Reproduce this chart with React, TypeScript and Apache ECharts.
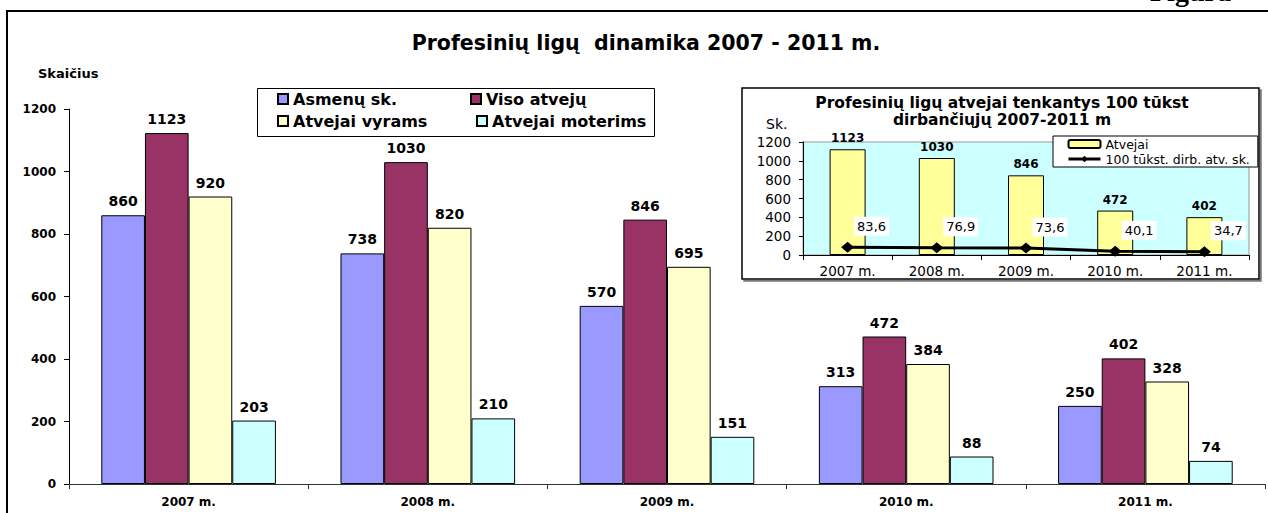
import React, { useEffect, useRef } from "react";
import * as echarts from "echarts";

const categories = ["2007 m.", "2008 m.", "2009 m.", "2010 m.", "2011 m."];
const asmenuSk = [860, 738, 570, 313, 250];
const visoAtveju = [1123, 1030, 846, 472, 402];
const atvejaiVyrams = [920, 820, 695, 384, 328];
const atvejaiMoterims = [203, 210, 151, 88, 74];
const insetAtvejai = [1123, 1030, 846, 472, 402];
const per100k = [83.6, 76.9, 73.6, 40.1, 34.7];

const FONT = "DejaVu Sans";

export default function App() {
  const ref = useRef<HTMLDivElement>(null);
  useEffect(() => {
    if (!ref.current) return;
    const chart = echarts.init(ref.current, undefined, { renderer: "svg" });
    const barLabel = {
      show: true,
      position: "top" as const,
      distance: 7,
      color: "#000",
      fontFamily: FONT,
      fontWeight: "bold" as const,
      fontSize: 14,
    };
    const mkBar = (name: string, data: number[], color: string) => ({
      name,
      type: "bar",
      xAxisIndex: 0,
      yAxisIndex: 0,
      data,
      barGap: "0%",
      barCategoryGap: "27%",
      itemStyle: { color, borderColor: "#000", borderWidth: 1 },
      label: barLabel,
    });
    const legendText = { fontFamily: FONT, fontSize: 16, fontWeight: "bold" as const, color: "#000" };
    const mkLegend = (name: string, left: number, top: number) => ({
      data: [name],
      left,
      top,
      padding: 0,
      itemWidth: 10,
      itemHeight: 10,
      icon: "rect",
      selectedMode: false,
      textStyle: legendText,
    });
    const plain = (v: number) => String(v);
    chart.setOption({
      animation: false,
      backgroundColor: "#fff",
      title: {
        text: "Profesinių ligų  dinamika 2007 - 2011 m.",
        left: 641,
        top: 27,
        textAlign: "center",
        textStyle: { fontFamily: FONT, fontSize: 20.5, fontWeight: "bold", color: "#000" },
      },
      legend: [
        mkLegend("Asmenų sk.", 277, 91),
        mkLegend("Viso atvejų", 470, 91),
        mkLegend("Atvejai vyrams", 277, 113),
        mkLegend("Atvejai moterims", 476, 113),
        {
          data: ["Atvejai", "100 tūkst. dirb. atv. sk."],
          orient: "vertical",
          left: 1053,
          top: 136,
          padding: [1, 8, 1, 14],
          itemGap: 1,
          itemWidth: 32,
          itemHeight: 8,
          selectedMode: false,
          backgroundColor: "#fff",
          borderColor: "#000",
          borderWidth: 1,
          lineStyle: { width: 3, color: "#000" },
          textStyle: { fontFamily: FONT, fontSize: 12.5, color: "#000", lineHeight: 14 },
        },
      ],
      grid: [
        { left: 69, top: 109, width: 1196, height: 375 },
        {
          left: 803,
          top: 142,
          width: 446,
          height: 113,
          show: true,
          backgroundColor: "#CCFFFF",
          borderColor: "#999",
          borderWidth: 1,
        },
      ],
      xAxis: [
        {
          type: "category",
          gridIndex: 0,
          data: categories,
          axisLine: { lineStyle: { color: "#333", width: 1 } },
          axisTick: { show: true, length: 5, interval: 0, lineStyle: { color: "#333" } },
          axisLabel: { fontFamily: FONT, fontSize: 12, fontWeight: "bold", color: "#000", margin: 12 },
        },
        {
          type: "category",
          gridIndex: 1,
          data: categories,
          axisLine: { lineStyle: { color: "#000", width: 1 } },
          axisTick: { show: true, length: 5, interval: 0, lineStyle: { color: "#000" } },
          axisLabel: { fontFamily: FONT, fontSize: 13.5, color: "#000", margin: 9 },
        },
      ],
      yAxis: [
        {
          type: "value",
          gridIndex: 0,
          min: 0,
          max: 1200,
          interval: 200,
          splitLine: { show: false },
          axisLine: { show: true, lineStyle: { color: "#000", width: 1 } },
          axisTick: { show: true, length: 5, lineStyle: { color: "#000" } },
          axisLabel: {
            fontFamily: FONT,
            fontSize: 12,
            fontWeight: "bold",
            color: "#000",
            margin: 13,
            formatter: plain,
          },
        },
        {
          type: "value",
          gridIndex: 1,
          min: 0,
          max: 1200,
          interval: 200,
          splitLine: { show: false },
          axisLine: { show: true, lineStyle: { color: "#000", width: 1 } },
          axisTick: { show: true, length: 4, lineStyle: { color: "#000" } },
          axisLabel: { fontFamily: FONT, fontSize: 13.5, color: "#000", margin: 12, formatter: plain },
        },
      ],
      series: [
        mkBar("Asmenų sk.", asmenuSk, "#9999FF"),
        mkBar("Viso atvejų", visoAtveju, "#993366"),
        mkBar("Atvejai vyrams", atvejaiVyrams, "#FFFFCC"),
        mkBar("Atvejai moterims", atvejaiMoterims, "#CCFFFF"),
        {
          name: "Atvejai",
          type: "bar",
          xAxisIndex: 1,
          yAxisIndex: 1,
          data: insetAtvejai,
          barWidth: 36,
          itemStyle: { color: "#FFFF99", borderColor: "#000", borderWidth: 1 },
          label: { ...barLabel, fontSize: 12, distance: 5 },
        },
        {
          name: "100 tūkst. dirb. atv. sk.",
          type: "line",
          xAxisIndex: 1,
          yAxisIndex: 1,
          data: per100k,
          symbol: "diamond",
          symbolSize: [13, 11],
          itemStyle: { color: "#000" },
          lineStyle: { color: "#000", width: 3 },
          label: {
            show: true,
            position: "right",
            distance: 0,
            offset: [0, -21],
            backgroundColor: "#fff",
            padding: [3, 3],
            color: "#000",
            fontFamily: FONT,
            fontSize: 13,
            formatter: (p: any) => String(p.value).replace(".", ","),
          },
        },
      ],
      graphic: [
        {
          type: "line",
          shape: { x1: 6, y1: 11, x2: 1268, y2: 11 },
          style: { stroke: "#000", lineWidth: 2 },
        },
        {
          type: "line",
          shape: { x1: 7, y1: 11, x2: 7, y2: 513 },
          style: { stroke: "#000", lineWidth: 2 },
        },
        {
          type: "text",
          x: 1150,
          y: 5,
          style: {
            text: "Figura",
            font: 'bold 28px "Liberation Serif"',
            fill: "#000",
            textAlign: "left",
            textVerticalAlign: "bottom",
          },
        },
        {
          type: "text",
          x: 38,
          y: 73,
          style: {
            text: "Skaičius",
            font: `bold 13px "${FONT}"`,
            fill: "#000",
            textAlign: "left",
            textVerticalAlign: "middle",
          },
        },
        {
          type: "rect",
          shape: { x: 257.5, y: 88.5, width: 397, height: 48 },
          style: { fill: "none", stroke: "#000", lineWidth: 1 },
        },
        {
          type: "rect",
          z: -1,
          shape: { x: 742, y: 88, width: 517, height: 191 },
          style: {
            fill: "#fff",
            stroke: "#000",
            lineWidth: 1.5,
            shadowColor: "#777",
            shadowOffsetX: 2,
            shadowOffsetY: 2,
            shadowBlur: 0,
          },
        },
        {
          type: "text",
          x: 1002,
          y: 103,
          style: {
            text: "Profesinių ligų atvejai tenkantys 100 tūkst",
            font: `bold 15.5px "${FONT}"`,
            fill: "#000",
            textAlign: "center",
            textVerticalAlign: "middle",
          },
        },
        {
          type: "text",
          x: 1002,
          y: 120,
          style: {
            text: "dirbančiųjų 2007-2011 m",
            font: `bold 15.5px "${FONT}"`,
            fill: "#000",
            textAlign: "center",
            textVerticalAlign: "middle",
          },
        },
        {
          type: "text",
          x: 766,
          y: 124,
          style: {
            text: "Sk.",
            font: `14px "${FONT}"`,
            fill: "#000",
            textAlign: "left",
            textVerticalAlign: "middle",
          },
        },
      ],
    });
    return () => chart.dispose();
  }, []);
  return (
    <div
      ref={ref}
      style={{ position: "absolute", left: 0, top: 0, width: 1268, height: 513 }}
    />
  );
}
